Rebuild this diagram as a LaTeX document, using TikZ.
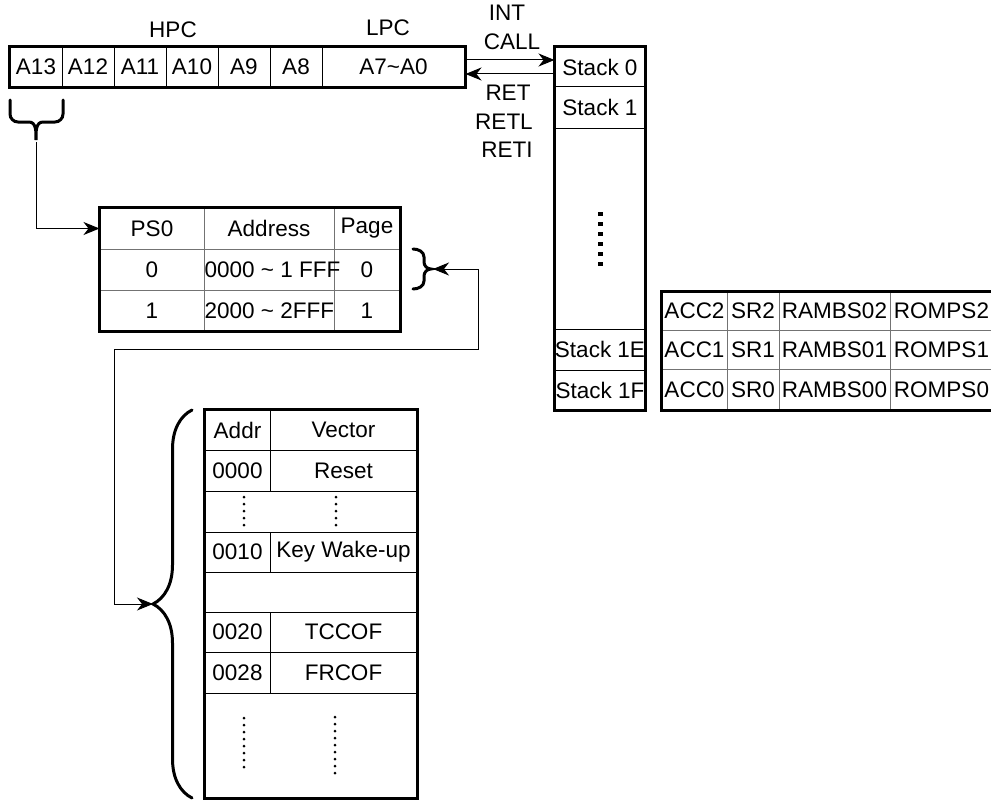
\documentclass[tikz,border=0pt]{standalone}
\usepackage{fontspec}
\setmainfont{Liberation Sans}
\usetikzlibrary{arrows.meta,decorations.pathreplacing}

\begin{document}
\begin{tikzpicture}[x=1pt,y=-1pt,font=\fontsize{22.5pt}{26pt}\selectfont,
    >={Stealth[length=16pt,width=13pt,inset=5pt]},
    cell/.style args={#1x#2}{draw,line width=1pt,inner sep=0pt,
      minimum width=#1*1pt,minimum height=#2*1pt},
    grid/.style={draw=black!55},
    outer/.style={line width=3pt},
    bracket/.style={line width=3pt,line cap=round},
    link/.style={line width=1pt}]
    \useasboundingbox (0,0) rectangle (991,800);
    \clip (0,0) rectangle (991,800);

    % program counter
    \foreach \nm/\lbl [count=\i from 0] in {a13/A13,a12/A12,a11/A11,a10/A10,a9/A9,a8/A8}
      \node[cell=52x40] (\nm) at (36+52*\i,67) {\lbl};
    \node[cell=143x40] (lpc) at (393.5,67) {A7\textasciitilde A0};
    \draw[outer] (a13.north west) rectangle (lpc.south east);
    \node (hpc) at (173,30) {HPC};
    \node (lpclbl) at (388,28) {LPC};

    % stack
    \node[cell=90x40] (stk0) at (600,67) {Stack 0};
    \node[cell=90x41] (stk1) at (600,107.5) {Stack 1};
    \node[cell=90x41] (stk1e) at (600,349.5) {Stack 1E};
    \node[cell=90x40] (stk1f) at (600,390) {Stack 1F};
    \draw[outer] (stk0.north west) rectangle (stk1f.south east);
    \foreach \k in {0,...,5} \fill (597.5,212+10*\k) rectangle ++(5,4);

    \draw[link,->] ([yshift=7pt]lpc.east) -- ([yshift=7pt]stk0.west);
    \draw[link,->] ([yshift=-7pt]stk0.west) -- ([yshift=-7pt]lpc.east);
    \node (int) at (507,13) {INT};
    \node (call) at (512,42) {CALL};
    \node (ret) at (508,93) {RET};
    \node (retl) at (504,122) {RETL};
    \node (reti) at (507,150) {RETI};

    % saved registers
    \foreach \y/\h/\n in {311/38/2,349.5/39/1,389.5/41/0} {
      \node[cell=65x\h,grid] (acc\n) at (694.5,\y) {ACC\n};
      \node[cell=52x\h,grid] (sr\n) at (753,\y) {SR\n};
      \node[cell=111x\h,grid] (rambs\n) at (834.5,\y) {RAMBS0\n};
      \node[cell=103x\h,grid] (romps\n) at (941.5,\y) {ROMPS\n};
    }
    \draw[outer] (acc2.north west) rectangle (romps0.south east);

    % page select
    \node[cell=104x41,grid] (ps0) at (152,228.5) {PS0};
    \node[cell=130x41,grid] (addr) at (269,228.5) {Address};
    \node[cell=66x41,grid] (page) at (367,228.5) {Page};
    \node[cell=104x41,grid] (psa) at (152,269.5) {0};
    \node[cell=130x41,grid] (addra) at (269,269.5) {};
    \node[cell=66x41,grid] (pagea) at (367,269.5) {0};
    \node[cell=104x41,grid] (psb) at (152,310.5) {1};
    \node[cell=130x41,grid] (addrb) at (269,310.5) {};
    \node[cell=66x41,grid] (pageb) at (367,310.5) {1};
    \node[anchor=west,inner sep=1pt] (addratxt) at (addra.west) {0000 \textasciitilde{} 1 FFF};
    \node[anchor=west,inner sep=1pt] (addrbtxt) at (addrb.west) {2000 \textasciitilde{} 2FFF};
    \draw[outer] (ps0.north west) rectangle (pageb.south east);

    % vector table
    \node[cell=65x40] (addrh) at (237.5,430) {Addr};
    \node[cell=147x40] (vech) at (343.5,430) {Vector};
    \node[cell=65x41] (v0000) at (237.5,470.5) {0000};
    \node[cell=147x41] (vreset) at (343.5,470.5) {Reset};
    \node[cell=212x41] (vdots) at (311,511.5) {};
    \node[cell=65x40] (v0010) at (237.5,552) {0010};
    \node[cell=147x40] (vkey) at (343.5,552) {Key Wake-up};
    \node[cell=212x40] (vgap) at (311,592) {};
    \node[cell=65x40] (v0020) at (237.5,632) {0020};
    \node[cell=147x40] (vtccof) at (343.5,632) {TCCOF};
    \node[cell=65x41] (v0028) at (237.5,672.5) {0028};
    \node[cell=147x41] (vfrcof) at (343.5,672.5) {FRCOF};
    \node[cell=212x105] (vrest) at (311,745.5) {};
    \draw[outer] (addrh.north west) rectangle (vrest.south east);
    \foreach \k in {0,...,4} {
      \fill (244,497+7*\k) circle (1.5);
      \fill (336,497+7*\k) circle (1.5);
    }
    \foreach \k in {0,...,7} \fill (244,718+7*\k) circle (1.5);
    \foreach \k in {0,...,8} \fill (335,717+7*\k) circle (1.5);

    % braces
    \draw[bracket] (10,100) -- (10,114) to[out=-90,in=180] (18,122) -- (29,122)
      to[out=0,in=90] (36,140) to[out=90,in=180] (43,122) -- (55,122)
      to[out=0,in=-90] (63,114) -- (63,100);
    \coordinate (hbrace) at (36,142);
    \draw[bracket] (413,249) to[out=0,in=90] (424,257) -- (424,262)
      to[out=-90,in=180] (431,269) to[out=180,in=90] (424,276) -- (424,281)
      to[out=-90,in=0] (413,289);
    \coordinate (psbrace) at (433,269);
    \draw[bracket,decorate,decoration={brace,amplitude=39pt}] (192,798) -- (192,410);
    \coordinate (vbrace) at (153,604);

    \draw[link,->] (hbrace) |- (ps0.west);
    \draw[link,<->] (psbrace) -| (478,349) -| (114,604) -- (vbrace);
  \end{tikzpicture}
\end{document}
